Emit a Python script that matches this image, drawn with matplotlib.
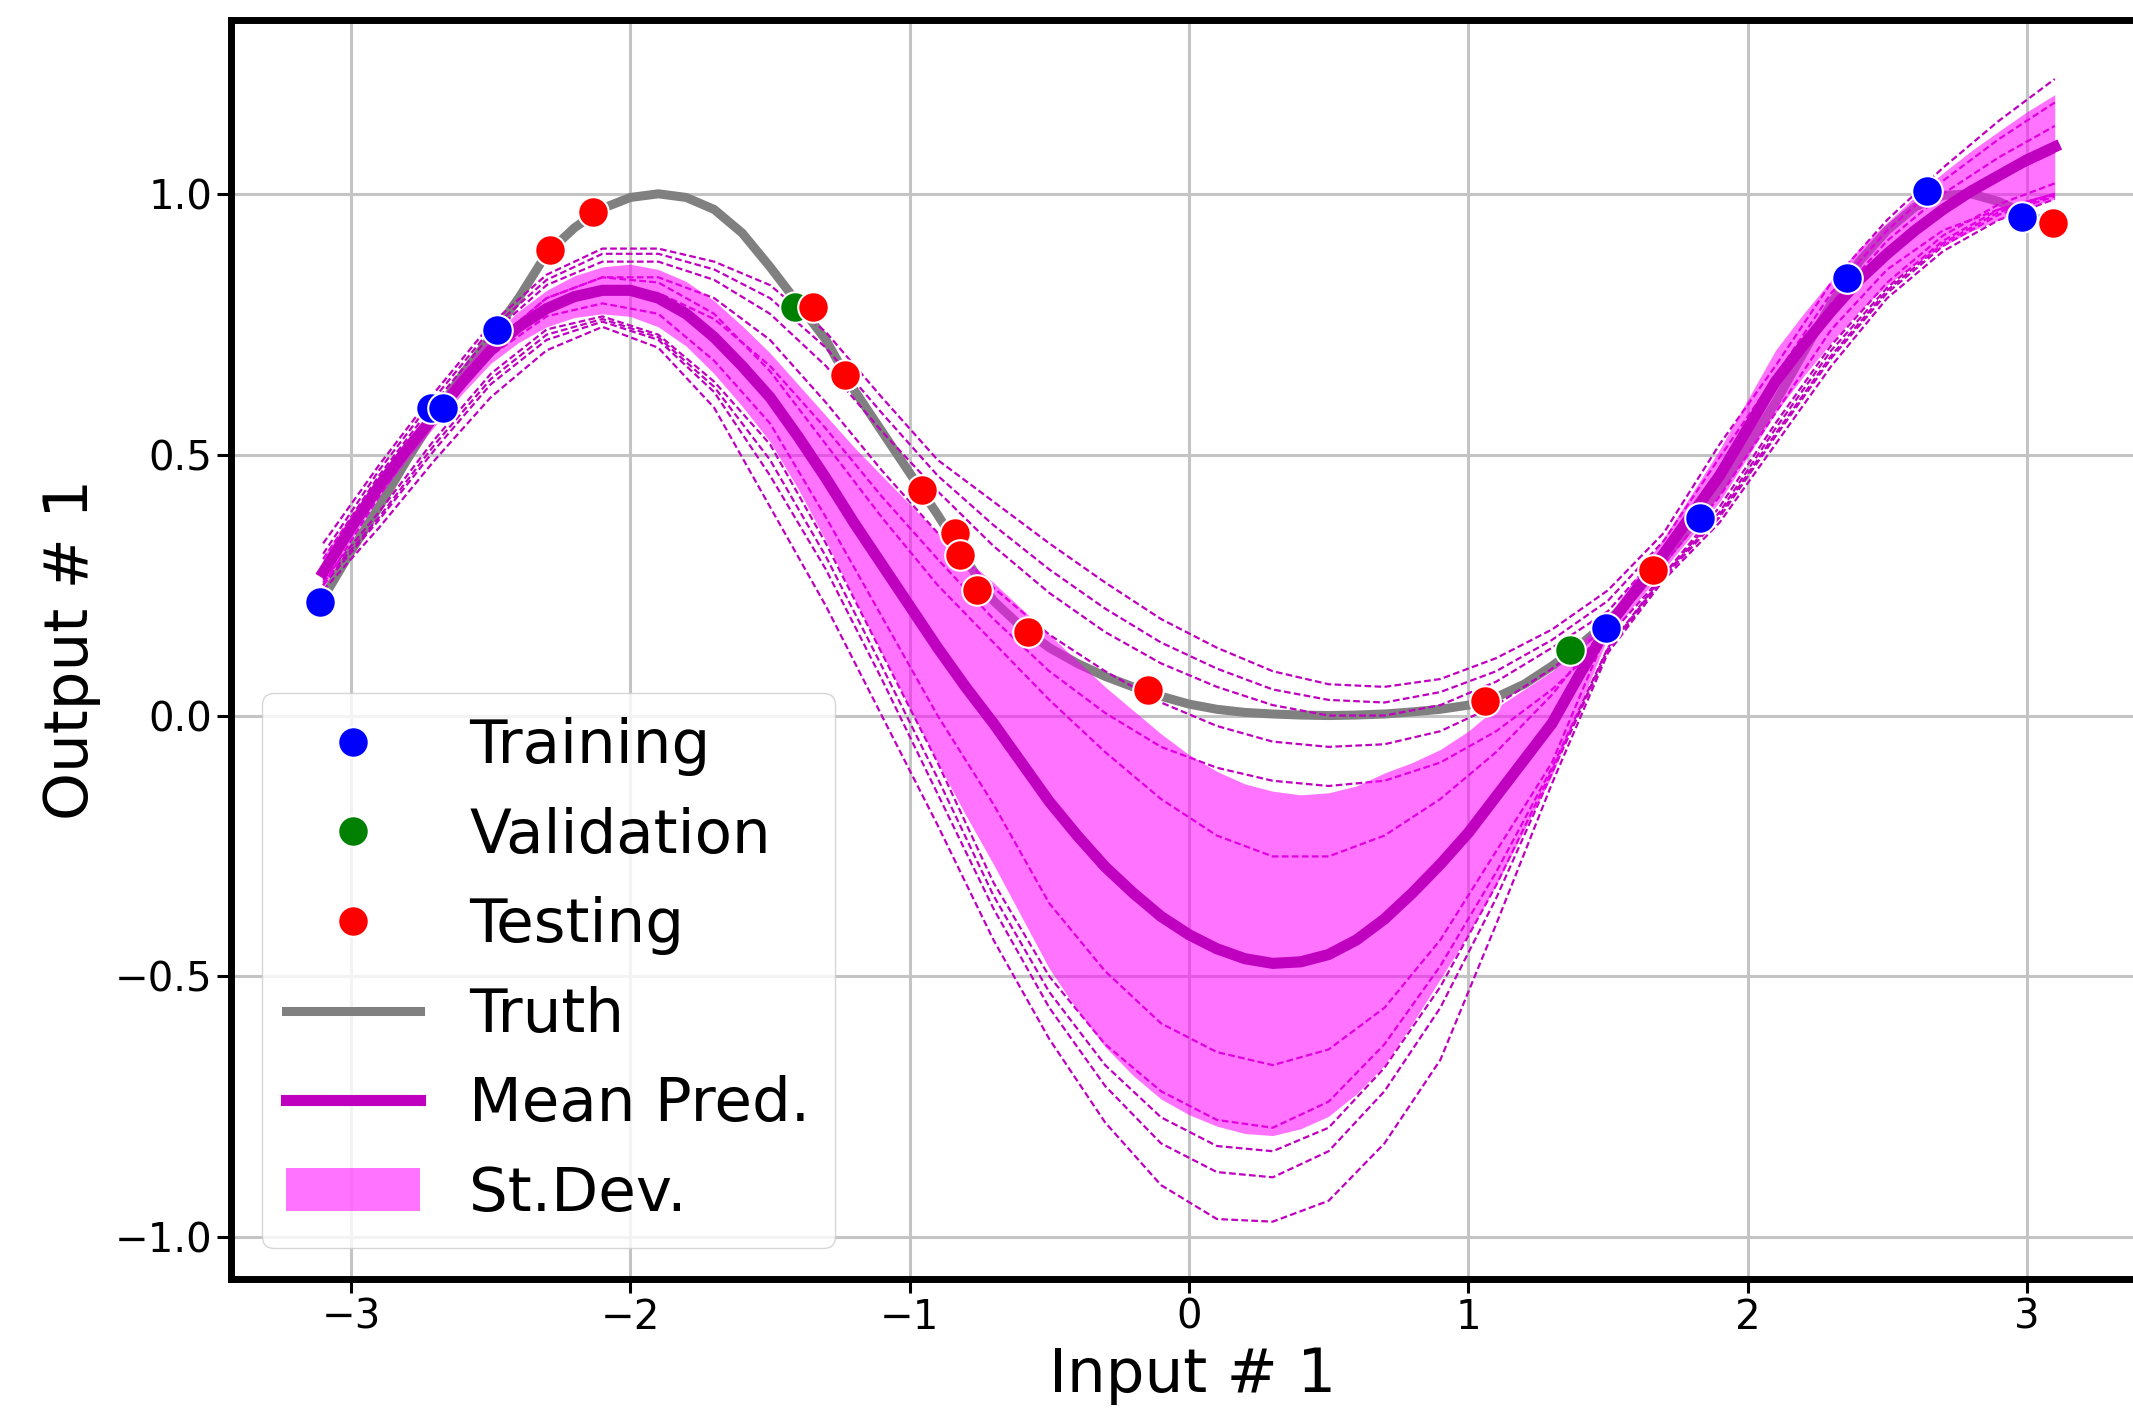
import numpy as np
import matplotlib.pyplot as plt

# values
# fine sampling for truth / mean / std
x_fine = [-3.1, -3.0, -2.9, -2.8, -2.7, -2.6, -2.5, -2.4, -2.3, -2.2, -2.1, -2.0, -1.9,
          -1.8, -1.7, -1.6, -1.5, -1.4, -1.3, -1.2, -1.1, -1.0, -0.9, -0.8, -0.7,
          -0.6, -0.5, -0.4, -0.3, -0.2, -0.1, 0.0, 0.1, 0.2, 0.3, 0.4, 0.5, 0.6,
          0.7, 0.8, 0.9, 1.0, 1.1, 1.2, 1.3, 1.4, 1.5, 1.6, 1.7, 1.8, 1.9,
          2.0, 2.1, 2.2, 2.3, 2.4, 2.5, 2.6, 2.7, 2.8, 2.9, 3.0, 3.1]

truth = [0.225, 0.315, 0.40, 0.49, 0.575, 0.655, 0.725, 0.80, 0.885, 0.935, 0.972, 0.993, 1.0,
         0.993, 0.97, 0.925, 0.86, 0.79, 0.72, 0.625, 0.545, 0.465, 0.385, 0.30, 0.22,
         0.17, 0.13, 0.10, 0.075, 0.055, 0.037, 0.022, 0.012, 0.006, 0.003, 0.001, 0.0, 0.001,
         0.003, 0.007, 0.012, 0.02, 0.035, 0.06, 0.095, 0.135, 0.18, 0.235, 0.30, 0.365, 0.435,
         0.515, 0.60, 0.695, 0.79, 0.87, 0.93, 0.975, 0.997, 1.0, 0.985, 0.96, 0.94]

mean_pred = [0.275, 0.36, 0.44, 0.51, 0.575, 0.64, 0.70, 0.745, 0.78, 0.803, 0.815, 0.815, 0.80,
             0.77, 0.725, 0.67, 0.61, 0.535, 0.455, 0.37, 0.29, 0.21, 0.13, 0.055, -0.015,
             -0.09, -0.165, -0.23, -0.29, -0.34, -0.385, -0.42, -0.447, -0.466, -0.475, -0.472, -0.458, -0.43,
             -0.39, -0.34, -0.285, -0.225, -0.155, -0.085, -0.015, 0.08, 0.17, 0.24, 0.31, 0.385, 0.46,
             0.55, 0.64, 0.71, 0.775, 0.835, 0.885, 0.93, 0.97, 1.005, 1.035, 1.065, 1.09]

std_pred = [0.03, 0.025, 0.02, 0.02, 0.02, 0.022, 0.025, 0.03, 0.035, 0.04, 0.045, 0.05, 0.055,
            0.062, 0.07, 0.077, 0.085, 0.10, 0.12, 0.145, 0.17, 0.195, 0.22, 0.245, 0.27,
            0.295, 0.32, 0.335, 0.345, 0.35, 0.35, 0.345, 0.34, 0.335, 0.33, 0.32, 0.31, 0.295,
            0.28, 0.25, 0.22, 0.195, 0.17, 0.135, 0.10, 0.06, 0.02, 0.025, 0.03, 0.04, 0.05,
            0.055, 0.06, 0.06, 0.06, 0.06, 0.06, 0.065, 0.07, 0.077, 0.085, 0.092, 0.10]

# individual ensemble members, coarser sampling
x_grid = [-3.1, -2.9, -2.7, -2.5, -2.3, -2.1, -1.9, -1.7, -1.5, -1.3, -1.1, -0.9,
          -0.7, -0.5, -0.3, -0.1, 0.1, 0.3, 0.5, 0.7, 0.9, 1.1, 1.3, 1.5,
          1.7, 1.9, 2.1, 2.3, 2.5, 2.7, 2.9, 3.1]

member_u1 = [0.33, 0.48, 0.62, 0.75, 0.845, 0.895, 0.895, 0.87, 0.825, 0.735, 0.61, 0.49,
             0.41, 0.33, 0.255, 0.185, 0.13, 0.085, 0.06, 0.055, 0.07, 0.11, 0.165, 0.24,
             0.35, 0.52, 0.67, 0.83, 0.95, 1.05, 1.14, 1.22]
member_u2 = [0.31, 0.47, 0.61, 0.74, 0.835, 0.885, 0.885, 0.855, 0.80, 0.705, 0.58, 0.46,
             0.365, 0.28, 0.205, 0.14, 0.09, 0.05, 0.03, 0.025, 0.045, 0.085, 0.145, 0.22,
             0.335, 0.495, 0.65, 0.81, 0.93, 1.025, 1.105, 1.175]
member_u3 = [0.30, 0.46, 0.60, 0.73, 0.825, 0.87, 0.87, 0.835, 0.77, 0.67, 0.545, 0.43,
             0.325, 0.235, 0.16, 0.10, 0.055, 0.02, 0.0, 0.0, 0.02, 0.065, 0.13, 0.20,
             0.32, 0.47, 0.63, 0.79, 0.91, 1.0, 1.07, 1.13]
member_u4 = [0.25, 0.42, 0.575, 0.71, 0.80, 0.84, 0.84, 0.80, 0.72, 0.60, 0.47, 0.35,
             0.245, 0.155, 0.085, 0.025, -0.02, -0.05, -0.06, -0.055, -0.03, 0.02, 0.09, 0.17,
             0.29, 0.42, 0.58, 0.74, 0.855, 0.93, 0.97, 1.0]
member_u5 = [0.27, 0.43, 0.58, 0.70, 0.78, 0.82, 0.81, 0.76, 0.67, 0.55, 0.42, 0.30,
             0.185, 0.085, 0.005, -0.06, -0.10, -0.125, -0.135, -0.125, -0.09, -0.03, 0.05, 0.15,
             0.27, 0.40, 0.56, 0.71, 0.83, 0.92, 0.98, 1.02]
member_m1 = [0.28, 0.445, 0.58, 0.71, 0.80, 0.84, 0.83, 0.77, 0.66, 0.52, 0.38, 0.25,
             0.14, 0.03, -0.07, -0.16, -0.23, -0.27, -0.27, -0.23, -0.16, -0.07, 0.04, 0.175,
             0.31, 0.46, 0.63, 0.77, 0.88, 0.97, 1.03, 1.08]
member_m2 = [0.27, 0.435, 0.57, 0.69, 0.765, 0.79, 0.77, 0.68, 0.56, 0.38, 0.19, 0.0,
             -0.17, -0.36, -0.49, -0.59, -0.645, -0.67, -0.64, -0.56, -0.43, -0.26, -0.09, 0.165,
             0.30, 0.45, 0.63, 0.77, 0.88, 0.97, 1.03, 1.08]
member_l1 = [0.26, 0.39, 0.53, 0.655, 0.74, 0.765, 0.73, 0.64, 0.52, 0.33, 0.12, -0.09,
             -0.32, -0.50, -0.63, -0.72, -0.775, -0.79, -0.74, -0.63, -0.48, -0.30, -0.10, 0.13,
             0.27, 0.39, 0.55, 0.70, 0.82, 0.91, 0.97, 1.0]
member_l2 = [0.255, 0.38, 0.52, 0.645, 0.73, 0.76, 0.725, 0.63, 0.49, 0.305, 0.095, -0.12,
             -0.345, -0.53, -0.67, -0.77, -0.825, -0.835, -0.79, -0.675, -0.52, -0.325, -0.105, 0.128,
             0.268, 0.385, 0.54, 0.69, 0.815, 0.905, 0.965, 0.998]
member_l3 = [0.25, 0.375, 0.51, 0.635, 0.72, 0.755, 0.72, 0.62, 0.46, 0.28, 0.07, -0.15,
             -0.37, -0.56, -0.71, -0.82, -0.875, -0.885, -0.835, -0.72, -0.56, -0.35, -0.11, 0.125,
             0.265, 0.38, 0.535, 0.685, 0.81, 0.90, 0.96, 0.995]
member_l4 = [0.24, 0.36, 0.49, 0.61, 0.70, 0.745, 0.705, 0.59, 0.40, 0.21, 0.0, -0.21,
             -0.43, -0.62, -0.78, -0.90, -0.965, -0.97, -0.93, -0.82, -0.66, -0.40, -0.13, 0.12,
             0.26, 0.37, 0.52, 0.67, 0.80, 0.89, 0.95, 0.99]

train_x = [-3.113, -2.715, -2.67, -2.479, 1.495, 1.830, 2.355, 2.641, 2.981]
train_y = [0.218, 0.589, 0.589, 0.739, 0.167, 0.378, 0.838, 1.005, 0.956]

val_x = [-1.41, 1.364]
val_y = [0.784, 0.126]

test_x = [-2.288, -2.133, -1.345, -1.232, -0.957, -0.838, -0.820, -0.760, -0.575,
          -0.146, 1.060, 1.662, 3.095]
test_y = [0.892, 0.966, 0.784, 0.653, 0.432, 0.349, 0.308, 0.241, 0.161,
          0.049, 0.027, 0.279, 0.944]

members = [member_u1, member_u2, member_u3, member_u4, member_u5, member_m1, member_m2,
           member_l1, member_l2, member_l3, member_l4]

fig = plt.figure(figsize=(21.33, 14.13), dpi=100)
ax = fig.add_axes([0.1083, 0.0948, 0.9015, 0.891])

ax.set_axisbelow(True)
ax.grid(True, color='#c4c4c4', linewidth=2.2)

h_truth, = ax.plot(x_fine, truth, color='gray', lw=6.5, label='Truth', zorder=2)

for m in members:
    ax.plot(x_grid, m, color='m', lw=1.6, ls=(0, (3, 1.5)), zorder=3)

mean_arr = np.array(mean_pred)
std_arr = np.array(std_pred)
h_std = ax.fill_between(x_fine, mean_arr - std_arr, mean_arr + std_arr, color='magenta',
                        alpha=0.55, lw=0, label='St.Dev.', zorder=4)
h_mean, = ax.plot(x_fine, mean_pred, color='m', lw=8, label='Mean Pred.', zorder=5)

pt_kw = dict(ls='none', marker='o', ms=22, mec='white', mew=1.5, zorder=6)
h_train, = ax.plot(train_x, train_y, color='b', label='Training', **pt_kw)
h_val, = ax.plot(val_x, val_y, color='g', label='Validation', **pt_kw)
h_test, = ax.plot(test_x, test_y, color='r', label='Testing', **pt_kw)

ax.set_xlim(-3.43, 3.455)
ax.set_ylim(-1.08, 1.333)
ax.set_xticks([-3, -2, -1, 0, 1, 2, 3])
ax.set_yticks([-1.0, -0.5, 0.0, 0.5, 1.0])
ax.tick_params(labelsize=29, length=10, width=2.2)

for s in ax.spines.values():
    s.set_linewidth(5)
    s.set_color('black')

ax.set_xlabel('Input # 1', fontsize=44, labelpad=6)
ax.set_ylabel('Output # 1', fontsize=44, labelpad=10)

ax.legend(handles=[h_train, h_val, h_test, h_truth, h_mean, h_std], loc='lower left',
          fontsize=44, handlelength=2.2, labelspacing=0.5)

fig.savefig('out.png', dpi=100)
